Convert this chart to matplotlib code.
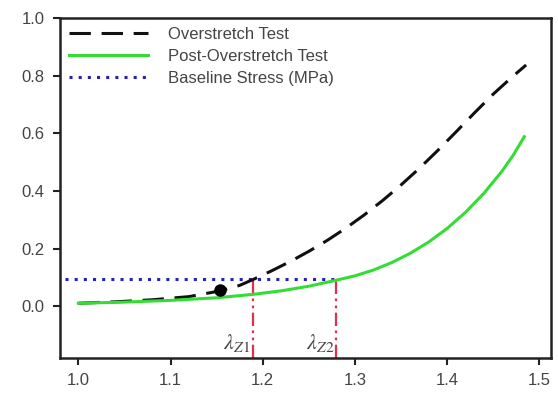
import matplotlib
matplotlib.use("Agg")
import matplotlib.pyplot as plt

plt.rcParams['font.family'] = ['Liberation Sans', 'DejaVu Sans']
plt.rcParams['mathtext.fontset'] = 'stix'

# Overstretch test (dashed black)
x_over = [1.00, 1.04, 1.08, 1.12, 1.154, 1.175, 1.19, 1.21, 1.23, 1.25, 1.27, 1.29,
          1.31, 1.33, 1.35, 1.37, 1.39, 1.41, 1.43, 1.45, 1.47, 1.486]
y_over = [0.010, 0.015, 0.022, 0.033, 0.053, 0.072, 0.093, 0.123, 0.155, 0.190, 0.228, 0.270,
          0.316, 0.366, 0.420, 0.478, 0.540, 0.605, 0.671, 0.735, 0.793, 0.837]

# Post-overstretch test (green)
x_post = [1.00, 1.05, 1.10, 1.15, 1.19, 1.22, 1.25, 1.28, 1.30, 1.32, 1.34, 1.36,
          1.38, 1.40, 1.42, 1.44, 1.46, 1.472, 1.484]
y_post = [0.010, 0.014, 0.020, 0.029, 0.041, 0.053, 0.069, 0.090, 0.105, 0.125, 0.151, 0.183,
          0.222, 0.269, 0.325, 0.391, 0.469, 0.524, 0.588]

# Baseline stress
baseline = 0.093
baseline_x = [0.985, 1.28]

# Transition points
lam_z1 = 1.189
lam_z2 = 1.28
dot_x, dot_y = 1.154, 0.055

xticks = [1.0, 1.1, 1.2, 1.3, 1.4, 1.5]
yticks = [0.0, 0.2, 0.4, 0.6, 0.8, 1.0]

fig = plt.figure(figsize=(5.58, 3.93), dpi=100)
ax = fig.add_axes([60/558, 1-358/393, (551-60)/558, (358-18)/393])

ax.plot(x_over, y_over, color='#111111', lw=2.2, linestyle=(0, (7, 3.5)),
        label='Overstretch Test', zorder=3)
ax.plot(x_post, y_post, color='#33dd33', lw=2.2, label='Post-Overstretch Test', zorder=3)
ax.plot(baseline_x, [baseline, baseline], color='#2222bb', lw=2.2,
        linestyle=(0, (1, 2)), label='Baseline Stress (MPa)', zorder=2)

red_ls = (0, (6, 2, 1.2, 2, 1.2, 2))
for lx in (lam_z1, lam_z2):
    ax.plot([lx, lx], [-0.18, baseline], color='#e3304a', lw=1.6, linestyle=red_ls, zorder=2)

ax.plot([dot_x], [dot_y], 'o', color='black', ms=8, zorder=4)

ax.text(lam_z1 - 0.002, -0.165, r'$\lambda_{Z1}$', ha='right', va='bottom',
        fontsize=16, color='#444444')
ax.text(lam_z2 - 0.002, -0.165, r'$\lambda_{Z2}$', ha='right', va='bottom',
        fontsize=16, color='#444444')

ax.set_xlim(0.98, 1.513)
ax.set_ylim(-0.18, 1.0)
ax.set_xticks(xticks)
ax.set_yticks(yticks)
ax.set_xticklabels([f'{v:.1f}' for v in xticks])
ax.set_yticklabels([f'{v:.1f}' for v in yticks])
ax.tick_params(direction='out', length=5, width=1.5, labelsize=12, colors='#222222',
               labelcolor='#444444', pad=6)
for s in ax.spines.values():
    s.set_linewidth(1.8)
    s.set_color('#222222')

leg = ax.legend(loc='upper left', frameon=False, fontsize=12, handlelength=4.7,
                handletextpad=1.2, borderaxespad=0.1, borderpad=0.45, labelspacing=0.4)
for t in leg.get_texts():
    t.set_color('#444444')

fig.savefig('out.png', dpi=100)
